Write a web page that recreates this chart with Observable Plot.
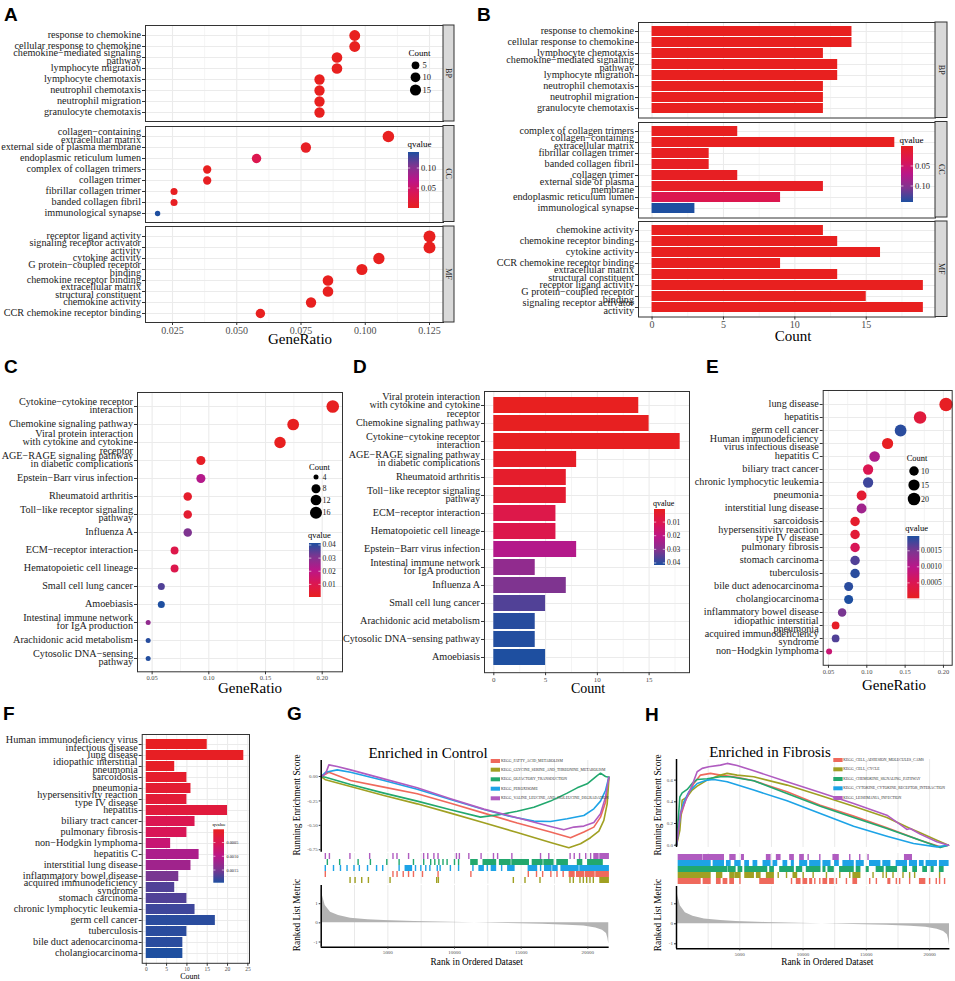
<!DOCTYPE html>
<html><head><meta charset="utf-8">
<script src="https://cdn.jsdelivr.net/npm/d3@7"></script>
<script src="https://cdn.jsdelivr.net/npm/@observablehq/plot@0.6"></script>
<style>
html,body{margin:0;padding:0;background:#fff;overflow:hidden;}
#root{position:relative;width:955px;height:981px;overflow:hidden;background:#fff;}
</style></head><body><div id="root"></div>
<script>
// ---------------- DATA ----------------
// Panel A (GO dot plot)
const aTermsBP = ["response to chemokine","cellular response to chemokine","chemokine−mediated signaling\npathway","lymphocyte migration","lymphocyte chemotaxis","neutrophil chemotaxis","neutrophil migration","granulocyte chemotaxis"];
const aRatioBP = [0.0959,0.0959,0.0890,0.0890,0.0822,0.0822,0.0822,0.0822];
const aCountBP = [14,14,13,13,12,12,12,12];
const aQBP = [0.00002,0.00002,0.0001,0.0001,0.00005,0.0002,0.0003,0.0003];
const aTermsCC = ["collagen−containing\nextracellular matrix","external side of plasma membrane","endoplasmic reticulum lumen","complex of collagen trimers","collagen trimer","fibrillar collagen trimer","banded collagen fibril","immunological synapse"];
const aRatioCC = [0.1090,0.0769,0.0577,0.0385,0.0385,0.0256,0.0256,0.0192];
const aCountCC = [17,12,9,6,6,4,4,3];
const aQCC = [0.001,0.004,0.033,0.0008,0.003,0.002,0.003,0.14];
const aTermsMF = ["receptor ligand activity","signaling receptor activator\nactivity","cytokine activity","G protein−coupled receptor\nbinding","chemokine receptor binding","extracellular matrix\nstructural constituent","chemokine activity","CCR chemokine receptor binding"];
const aRatioMF = [0.1250,0.1250,0.1053,0.0987,0.0855,0.0855,0.0789,0.0592];
const aCountMF = [19,19,16,15,13,13,12,9];
const aQMF = [0.0002,0.0003,0.00003,0.0002,0.00002,0.0001,0.00001,0.00005];
// Panel B (GO bar plot)
const bTermsBP = ["response to chemokine","cellular response to chemokine","lymphocyte chemotaxis","chemokine−mediated signaling\npathway","lymphocyte migration","neutrophil chemotaxis","neutrophil migration","granulocyte chemotaxis"];
const bCountBP = [14,14,12,13,13,12,12,12];
const bQBP = [0.00002,0.00002,0.00005,0.0001,0.0001,0.0002,0.0003,0.0003];
const bTermsCC = ["complex of collagen trimers","collagen−containing\nextracellular matrix","fibrillar collagen trimer","banded collagen fibril","collagen trimer","external side of plasma\nmembrane","endoplasmic reticulum lumen","immunological synapse"];
const bCountCC = [6,17,4,4,6,12,9,3];
const bQCC = [0.0008,0.001,0.002,0.003,0.003,0.004,0.033,0.14];
const bTermsMF = ["chemokine activity","chemokine receptor binding","cytokine activity","CCR chemokine receptor binding","extracellular matrix\nstructural constituent","receptor ligand activity","G protein−coupled receptor\nbinding","signaling receptor activator\nactivity"];
const bCountMF = [12,13,16,9,13,19,15,19];
const bQMF = [0.00001,0.00002,0.00003,0.00005,0.0001,0.0002,0.0002,0.0003];
const goQDomain = [0.00001, 0.14];
// Panel C (KEGG dot plot)
const cTerms = ["Cytokine−cytokine receptor\ninteraction","Chemokine signaling pathway","Viral protein interaction\nwith cytokine and cytokine\nreceptor","AGE−RAGE signaling pathway\nin diabetic complications","Epstein−Barr virus infection","Rheumatoid arthritis","Toll−like receptor signaling\npathway","Influenza A","ECM−receptor interaction","Hematopoietic cell lineage","Small cell lung cancer","Amoebiasis","Intestinal immune network\nfor IgA production","Arachidonic acid metabolism","Cytosolic DNA−sensing\npathway"];
const cRatio = [0.2093,0.1744,0.1628,0.0930,0.0930,0.0814,0.0814,0.0814,0.0698,0.0698,0.0581,0.0581,0.0465,0.0465,0.0465];
const cCount = [18,15,14,8,8,7,7,7,6,6,5,5,4,4,4];
const cQ = [0.0008,0.0008,0.0006,0.002,0.022,0.003,0.004,0.031,0.009,0.0095,0.036,0.0415,0.028,0.0405,0.041];
// Panel D (KEGG bar plot)
const dTerms = ["Viral protein interaction\nwith cytokine and cytokine\nreceptor","Chemokine signaling pathway","Cytokine−cytokine receptor\ninteraction","AGE−RAGE signaling pathway\nin diabetic complications","Rheumatoid arthritis","Toll−like receptor signaling\npathway","ECM−receptor interaction","Hematopoietic cell lineage","Epstein−Barr virus infection","Intestinal immune network\nfor IgA production","Influenza A","Small cell lung cancer","Arachidonic acid metabolism","Cytosolic DNA−sensing pathway","Amoebiasis"];
const dCount = [14,15,18,8,7,7,6,6,8,4,7,5,4,4,5];
const dQ = [0.0006,0.0008,0.0008,0.002,0.003,0.004,0.009,0.0095,0.022,0.028,0.031,0.036,0.0405,0.041,0.0415];
const keggQDomain = [0.0004, 0.0415];
// Panel E (DO dot plot)
const eTerms = ["lung disease","hepatitis","germ cell cancer","Human immunodeficiency\nvirus infectious disease","hepatitis C","biliary tract cancer","chronic lymphocytic leukemia","pneumonia","interstitial lung disease","sarcoidosis","hypersensitivity reaction\ntype IV disease","pulmonary fibrosis","stomach carcinoma","tuberculosis","bile duct adenocarcinoma","cholangiocarcinoma","inflammatory bowel disease","idiopathic interstitial\npneumonia","acquired immunodeficiency\nsyndrome","non−Hodgkin lymphoma"];
const eRatio = [0.2034,0.1695,0.1441,0.1271,0.1102,0.1017,0.1017,0.0932,0.0932,0.0847,0.0847,0.0847,0.0847,0.0847,0.0763,0.0763,0.0678,0.0593,0.0593,0.0508];
const eCount = [24,20,17,15,13,12,12,11,11,10,10,10,10,10,9,9,8,7,7,6];
const eQ = [0.00007,0.0003,0.0019,0.00005,0.0011,0.0005,0.0018,0.0002,0.0012,0.00015,0.00025,0.00055,0.0017,0.0019,0.0019,0.00196,0.0015,0.0001,0.0017,0.0008];
// Panel F (DO bar plot)
const fTerms = ["Human immunodeficiency virus\ninfectious disease","lung disease","idiopathic interstitial\npneumonia","sarcoidosis","pneumonia","hypersensitivity reaction\ntype IV disease","hepatitis","biliary tract cancer","pulmonary fibrosis","non−Hodgkin lymphoma","hepatitis C","interstitial lung disease","inflammatory bowel disease","acquired immunodeficiency\nsyndrome","stomach carcinoma","chronic lymphocytic leukemia","germ cell cancer","tuberculosis","bile duct adenocarcinoma","cholangiocarcinoma"];
const fCount = [15,24,7,10,11,10,20,12,10,6,13,11,8,7,10,12,17,10,9,9];
const fQ = [0.00005,0.00007,0.0001,0.00015,0.0002,0.00025,0.0003,0.0005,0.00055,0.0008,0.0011,0.0012,0.0015,0.0017,0.0017,0.0018,0.0019,0.0019,0.0019,0.00196];
const doQDomain = [0.00002, 0.00196];
// Panel G (GSEA, enriched in control)
const gSets = ["KEGG_FATTY_ACID_METABOLISM","KEGG_GLYCINE_SERINE_AND_THREONINE_METABOLISM","KEGG_OLFACTORY_TRANSDUCTION","KEGG_PEROXISOME","KEGG_VALINE_LEUCINE_AND_ISOLEUCINE_DEGRADATION"];
const gEsFatty = [[0,0],[575,0.044],[2200,-0.041],[4700,-0.109],[7200,-0.177],[9700,-0.273],[12200,-0.375],[14700,-0.477],[17200,-0.569],[18700,-0.627],[19700,-0.569],[20450,-0.518],[20950,-0.416],[21325,-0.263],[21575,-0.007]];
const gEsGlycine = [[0,0],[325,-0.034],[2200,-0.102],[4700,-0.194],[7200,-0.28],[9700,-0.375],[12200,-0.474],[14700,-0.573],[17200,-0.675],[18575,-0.73],[19450,-0.689],[20200,-0.627],[20825,-0.559],[21200,-0.45],[21450,-0.28],[21590,-0.007]];
const gEsOlfactory = [[0,0],[325,-0.007],[2200,-0.082],[4700,-0.17],[7200,-0.252],[9700,-0.341],[11950,-0.416],[13450,-0.389],[14700,-0.355],[15950,-0.314],[17200,-0.252],[18450,-0.17],[19200,-0.116],[19950,-0.075],[20700,0.01],[20950,0.034],[21325,0],[21575,-0.007]];
const gEsPeroxisome = [[0,0],[325,0.044],[1200,0.068],[2200,0.044],[4700,-0.041],[7200,-0.13],[9700,-0.235],[12200,-0.338],[14200,-0.409],[15950,-0.457],[17200,-0.46],[18450,-0.433],[19700,-0.399],[20450,-0.331],[20950,-0.252],[21325,-0.143],[21575,-0.007]];
const gEsValine = [[0,0],[325,0.027],[575,0.119],[1200,0.102],[2200,0.068],[4700,-0.024],[7200,-0.116],[9700,-0.228],[12200,-0.334],[14700,-0.423],[17200,-0.511],[18200,-0.546],[18950,-0.518],[19700,-0.508],[20450,-0.47],[20950,-0.382],[21325,-0.211],[21575,-0.007]];
const gHitsFatty = [341,5418,5726,6188,6588,6957,7634,8803,11265,15572,16188,16649,17265,17726,18188,[18649,19000],[19200,19700],[19850,20500],[20650,21570]];
const gHitsGlycine = [2200,2575,3075,3575,5200,8700,8825,14450,15325,16450,18700,18950,19450,19700,19950,20200,20450,[20950,21570]];
const gHitsOlfactory = [495,1418,2803,3726,4957,5880,6957,7726,8249,8557,8865,9172,9480,10034,10342,[11265,11726],[12188,13111],[13419,14200],[14350,15572],[15880,16600],[16750,17419],[17726,18495],[19265,19573],[20034,21111]];
const gHitsPeroxisome = [341,957,1480,1972,2495,2895,3511,4188,4649,5880,[6341,6803],7110,7510,7880,8188,8742,8957,9726,10342,11418,[11880,12188],12495,[12803,13111],13572,[14034,14495],[15572,16188],16495,[16803,17265],[17419,17726],[18034,19300],[19450,21570]];
const gHitsValine = [345,650,2190,3670,5420,5720,6590,7720,8030,8490,8800,10180,10400,11110,12030,12960,13270,14340,16490,17110,18710,19020,19420,19880,20250,[20500,20800],[20950,21570]];
const gHitRows = ["KEGG_VALINE_LEUCINE_AND_ISOLEUCINE_DEGRADATION","KEGG_OLFACTORY_TRANSDUCTION","KEGG_PEROXISOME","KEGG_FATTY_ACID_METABOLISM","KEGG_GLYCINE_SERINE_AND_THREONINE_METABOLISM"];
// Panel H (GSEA, enriched in fibrosis)
const hSets = ["KEGG_CELL_ADHESION_MOLECULES_CAMS","KEGG_CELL_CYCLE","KEGG_CHEMOKINE_SIGNALING_PATHWAY","KEGG_CYTOKINE_CYTOKINE_RECEPTOR_INTERACTION","KEGG_LEISHMANIA_INFECTION"];
const hEsCams = [[0,0],[316,0.262],[710,0.415],[1368,0.569],[1894,0.646],[2683,0.662],[3472,0.646],[4787,0.625],[6102,0.594],[8732,0.492],[11362,0.369],[13992,0.268],[16622,0.16],[19252,0.046],[20830,-0.015],[21487,0]];
const hEsCycle = [[0,0],[263,0.138],[447,0.415],[842,0.446],[1236,0.508],[1631,0.545],[2420,0.6],[3472,0.646],[3998,0.662],[4787,0.646],[6102,0.631],[8732,0.554],[11362,0.458],[13992,0.36],[16622,0.255],[18463,0.154],[19252,0.114],[20567,0.046],[21487,0]];
const hEsChemokine = [[0,0],[263,0.446],[447,0.483],[842,0.514],[1236,0.569],[1631,0.606],[2420,0.612],[3472,0.631],[4261,0.631],[6102,0.594],[8732,0.477],[11362,0.36],[13992,0.255],[16622,0.154],[19252,0.046],[20830,-0.022],[21487,0]];
const hEsCytokine = [[0,0],[316,0.292],[579,0.4],[973,0.492],[1631,0.569],[2420,0.6],[2946,0.606],[3998,0.585],[6102,0.508],[8732,0.409],[11362,0.292],[13992,0.175],[16622,0.083],[18726,0.015],[20567,-0.015],[21487,0]];
const hEsLeish = [[0,0],[316,0.292],[842,0.446],[1236,0.554],[1631,0.677],[2025,0.708],[2551,0.723],[3472,0.738],[3998,0.754],[4787,0.735],[6102,0.686],[8732,0.585],[11362,0.486],[13992,0.385],[16622,0.277],[17937,0.169],[18200,0.145],[18463,0.154],[19252,0.102],[20567,0.031],[21487,0]];
const hHitsCams = [[184,1894],[2157,2683],[3209,3472],[3735,3998],[4261,4524],5050,[6628,7680],9126,[9521,9784],[10047,10310],[10573,10704],10967,11362,[11625,11888],[12151,12414],12677,13466,[13992,14255],15307,15833,[16753,16885],17411,17674,18463,[19252,19647],20041,20567,20830,21224];
const hHitsCycle = [[184,2683],[3209,3603],[4261,4524],[4655,5050],[5444,6102],[6365,6628],[7154,7680],8074,8732,[9258,9521],10047,10836,11888,12940,13729,[13992,14518],15570,16359,16622,17148,17937,18463,18857,20830];
const hHitsChemokine = [[184,3998],[4129,4655],[4918,5181],[5444,7154],[7417,7680],[8206,9258],[9521,9916],[10310,11362],[11625,11756],[12020,12414],[12940,13992],[14255,14518],[15044,15175],[15833,16359],[16622,17411],[17937,18200],[18726,18989],[19515,19778],[20173,20304],[20830,21093]];
const hHitsCytokine = [[184,2683],[2946,3735],[3998,4261],[4655,5050],[5444,5708],[6102,6365],[6891,7417],[7680,7943],[8469,8732],[9127,9258],[9784,10310],[10573,11362],[11625,12152],[12545,12808],[13203,13992],[14255,14781],[15307,16096],[16359,16885],[17411,18200],[18463,18989],[19252,19515],[19778,20567],[20830,21487]];
const hHitsLeish = [[184,2025],[2157,3735],[4261,4655],[5181,5313],[7154,7417],[7943,8206],[8995,9258],[9784,10047],10441,11362,[12414,12808],13729,14518,15175,[18068,18594]];
const hHitRows = ["KEGG_LEISHMANIA_INFECTION","KEGG_CYTOKINE_CYTOKINE_RECEPTOR_INTERACTION","KEGG_CHEMOKINE_SIGNALING_PATHWAY","KEGG_CELL_CYCLE","KEGG_CELL_ADHESION_MOLECULES_CAMS"];
// shared ranked list metric (G and H)
const metricRank = [0,100,300,700,1300,2200,3500,4700,7000,9700,11500,14000,16600,18500,19700,20600,21100,21400,21500,21570];
const metricVal = [1.8,1.4,0.9,0.55,0.38,0.24,0.16,0.12,0.07,0.03,0.0,-0.03,-0.07,-0.12,-0.17,-0.27,-0.38,-0.55,-0.8,-1.1];
const gseaColors = ["#EF695C","#A0A022","#22A86E","#1DA3E6","#B05CC0"];

// ---------------- RENDERING ----------------
const FONT = '"Liberation Serif","Times New Roman",serif';
const SANS = '"Liberation Sans",Arial,sans-serif';
const PAL = ["#E8201F","#DB1652","#BA1689","#7E3590","#1E4FA0"];
const qInterp = d3.piecewise(d3.interpolateRgb, PAL);
const colorOpt = dom => ({type: "linear", domain: dom, interpolate: qInterp});
const rOpt = (nmin, nmax, rmin, rmax) => ({type: "linear", transform: v => Math.sqrt(Math.max(0, v - nmin)), domain: [0, Math.sqrt(nmax - nmin)], range: [rmin, rmax]});
const rFun = (nmin, nmax, rmin, rmax) => v => rmin + (rmax - rmin) * Math.sqrt(Math.max(0, v - nmin)) / Math.sqrt(nmax - nmin);
const root = document.getElementById("root");
const STYLE = {fontFamily: FONT, background: "transparent", overflow: "visible", color: "#1a1a1a"};
const YFS = 10.2;

function place(node, left, top) {
  node.style.position = "absolute";
  node.style.left = left + "px";
  node.style.top = top + "px";
  node.style.maxWidth = "none";
  root.appendChild(node);
}

function catPanel(c) {
  const data = c.terms.map((t, i) => ({t, n: c.n[i], x: c.x ? c.x[i] : c.n[i], q: c.q[i]}));
  const mt = 3, mr = 3, mb = c.showX ? c.xfs + 8 : 3;
  const ml = c.fx1 - c.left;
  const y = c.bar
    ? {type: "band", domain: c.terms, paddingInner: 0.1, paddingOuter: 0.15, axis: null}
    : {type: "point", domain: c.terms, padding: 0.6, axis: null};
  const marks = [
    Plot.gridX(c.minor, {stroke: "#EBEBEB", strokeOpacity: 1, strokeWidth: 0.55}),
    Plot.gridX(c.major, {stroke: "#EBEBEB", strokeOpacity: 1, strokeWidth: 1.1}),
    Plot.gridY(c.terms, {stroke: "#EBEBEB", strokeOpacity: 1, strokeWidth: 1.1}),
    c.bar ? Plot.barX(data, {x: "n", y: "t", fill: "q"}) : Plot.dot(data, {x: "x", y: "t", r: "n", fill: "q"}),
    Plot.axisY(c.terms, {tickSize: 3, tickPadding: 1.5, fontSize: YFS, lineHeight: 8.4 / YFS, stroke: "#333", fill: "#1a1a1a", label: null}),
    Plot.frame({stroke: "#333", strokeWidth: 1})
  ];
  if (c.showX) marks.push(Plot.axisX(c.major, {tickSize: 3, tickPadding: 1, fontSize: c.xfs, tickFormat: c.fmt, stroke: "#333", fill: "#4d4d4d", label: null}));
  const opts = {
    width: c.fx2 + mr - c.left, height: c.fy2 - c.fy1 + mt + mb,
    marginLeft: ml, marginRight: mr, marginTop: mt, marginBottom: mb,
    style: STYLE, x: {domain: c.xDomain, axis: null}, y, color: c.color, marks
  };
  if (c.r) opts.r = c.r;
  const p = Plot.plot(opts);
  place(p, c.left, c.fy1 - mt);
  return p;
}

// ---- Panel A
const aX = {xDomain: [0.014494, 0.130447], major: [0.025, 0.05, 0.075, 0.1, 0.125], minor: [0.0375, 0.0625, 0.0875, 0.1125], fmt: d => d.toFixed(3), xfs: 10};
const aR = rOpt(3, 19, 2.7, 6), aRf = rFun(3, 19, 2.7, 6);
const aC = colorOpt(goQDomain);
const aFacets = [
  {terms: aTermsBP, x: aRatioBP, n: aCountBP, q: aQBP, fy1: 25, fy2: 121, lab: "BP"},
  {terms: aTermsCC, x: aRatioCC, n: aCountCC, q: aQCC, fy1: 125.5, fy2: 221.5, lab: "CC"},
  {terms: aTermsMF, x: aRatioMF, n: aCountMF, q: aQMF, fy1: 226, fy2: 322, lab: "MF", showX: true}
];
aFacets.forEach(f => catPanel({...aX, ...f, left: 0, fx1: 145, fx2: 443, r: aR, color: aC}));

// ---- Panel B
const bX = {xDomain: [-0.95, 19.85], major: [0, 5, 10, 15], minor: [2.5, 7.5, 12.5, 17.5], fmt: d => String(d), xfs: 10};
const bFacets = [
  {terms: bTermsBP, n: bCountBP, q: bQBP, fy1: 22, fy2: 117.5, lab: "BP"},
  {terms: bTermsCC, n: bCountCC, q: bQCC, fy1: 121.5, fy2: 217, lab: "CC"},
  {terms: bTermsMF, n: bCountMF, q: bQMF, fy1: 221, fy2: 316.5, lab: "MF", showX: true}
];
bFacets.forEach(f => catPanel({...bX, ...f, bar: true, left: 470, fx1: 638, fx2: 935, color: aC}));

// ---- Panel C
const cR = rOpt(4, 18, 2.5, 6.3), cRf = rFun(4, 18, 2.5, 6.3);
const kC = colorOpt(keggQDomain);
catPanel({terms: cTerms, x: cRatio, n: cCount, q: cQ, left: 0, fx1: 137, fx2: 342, fy1: 392, fy2: 671.3,
  xDomain: [0.0371, 0.2179], major: [0.05, 0.1, 0.15, 0.2], minor: [0.075, 0.125, 0.175], fmt: d => d.toFixed(2), xfs: 6.5, showX: true, r: cR, color: kC});
// ---- Panel D
catPanel({terms: dTerms, n: dCount, q: dQ, bar: true, left: 340, fx1: 484, fx2: 689, fy1: 390.6, fy2: 671.8,
  xDomain: [-0.9, 18.9], major: [0, 5, 10, 15], minor: [2.5, 7.5, 12.5, 17.5], fmt: d => String(d), xfs: 7, showX: true, color: kC});
// ---- Panel E
const eR = rOpt(6, 24, 3, 6.7), eRf = rFun(6, 24, 3, 6.7);
const dC = colorOpt(doQDomain);
catPanel({terms: eTerms, x: eRatio, n: eCount, q: eQ, left: 680, fx1: 822.7, fx2: 951.7, fy1: 390.1, fy2: 664.9,
  xDomain: [0.0431, 0.2114], major: [0.05, 0.1, 0.15, 0.2], minor: [0.075, 0.125, 0.175], fmt: d => d.toFixed(2), xfs: 6.5, showX: true, r: eR, color: dC});
// ---- Panel F
catPanel({terms: fTerms, n: fCount, q: fQ, bar: true, left: 0, fx1: 141.7, fx2: 249, fy1: 734, fy2: 962.8,
  xDomain: [-1, 25.4], major: [0, 5, 10, 15, 20, 25], minor: [2.5, 7.5, 12.5, 17.5, 22.5], fmt: d => String(d), xfs: 5.5, showX: true, color: dC});

// ---- GSEA panels
function gseaPanel(c) {
  const es = [];
  c.sets.forEach((s, i) => c.es[i].forEach(([r, v]) => es.push({set: s, r, v})));
  const hits = [];
  c.sets.forEach((s, i) => c.hits[i].forEach(h => { const [a, b] = Array.isArray(h) ? h : [h, h]; hits.push({set: s, a, b}); }));
  const met = metricRank.map((r, i) => ({r, v: metricVal[i]}));
  const color = {type: "ordinal", domain: c.sets, range: gseaColors};
  const ml = c.fx1 - c.left, mr = 3, W = c.fx2 + mr - c.left;
  const xs = {domain: [0, 21600], axis: null};
  const grid = () => Plot.gridX([2500, 5000, 7500, 10000, 12500, 15000, 17500, 20000], {stroke: "#E9E9E9", strokeOpacity: 1, strokeWidth: 1});
  const up = Plot.plot({
    width: W, height: c.u[1] - c.u[0] + 4, marginLeft: ml, marginRight: mr, marginTop: 2, marginBottom: 2,
    x: xs, y: {domain: c.uDom, axis: null}, color, style: STYLE,
    marks: [grid(),
      Plot.line(es, {x: "r", y: "v", stroke: "set", z: "set", strokeWidth: 1.6}),
      Plot.ruleX([0], {stroke: "#000", strokeWidth: 1.5}),
      Plot.axisY(c.uTicks, {tickSize: 2, tickPadding: 1.5, fontSize: 5, tickFormat: c.uFmt, stroke: "#333", fill: "#4d4d4d", label: null})]
  });
  place(up, c.left, c.u[0] - 2);
  const hp = Plot.plot({
    width: W, height: c.h[1] - c.h[0], marginLeft: ml, marginRight: mr, marginTop: 0, marginBottom: 0,
    x: xs, y: {type: "band", domain: c.hitRows, padding: 0, axis: null}, color, style: STYLE,
    marks: [grid(), Plot.barX(hits, {x1: "a", x2: "b", y: "set", fill: "set", insetLeft: -0.7, insetRight: -0.7})]
  });
  place(hp, c.left, c.h[0]);
  const lo = Plot.plot({
    width: W, height: c.l[1] - c.l[0] + 16, marginLeft: ml, marginRight: mr, marginTop: 2, marginBottom: 14,
    x: xs, y: {domain: c.lDom, axis: null}, style: STYLE,
    marks: [grid(),
      Plot.areaY(met, {x: "r", y: "v", fill: "#B3B3B3"}),
      Plot.ruleX([0], {stroke: "#000", strokeWidth: 1.5}),
      Plot.ruleY([c.lDom[0]], {stroke: "#000", strokeWidth: 1.5}),
      Plot.axisY([1, 0, -1], {tickSize: 2, tickPadding: 1.5, fontSize: 5, tickFormat: d => String(d), stroke: "#333", fill: "#4d4d4d", label: null}),
      Plot.axisX([5000, 10000, 15000, 20000], {tickSize: 2, tickPadding: 1.5, fontSize: 5, tickFormat: d => String(d), stroke: "#333", fill: "#4d4d4d", label: null})]
  });
  place(lo, c.left, c.l[0] - 2);
}
gseaPanel({sets: gSets, es: [gEsFatty, gEsGlycine, gEsOlfactory, gEsPeroxisome, gEsValine],
  hits: [gHitsFatty, gHitsGlycine, gHitsOlfactory, gHitsPeroxisome, gHitsValine], hitRows: gHitRows,
  left: 290, fx1: 320.7, fx2: 608.7, u: [760, 851.7], uDom: [-0.775, 0.164], uTicks: [0, -0.25, -0.5, -0.75], uFmt: d => d.toFixed(2),
  h: [853.3, 884], l: [885, 946.7], lDom: [-1.27, 1.95]});
gseaPanel({sets: hSets, es: [hEsCams, hEsCycle, hEsChemokine, hEsCytokine, hEsLeish],
  hits: [hHitsCams, hHitsCycle, hHitsChemokine, hHitsCytokine, hHitsLeish], hitRows: hHitRows,
  left: 650, fx1: 676, fx2: 949.4, u: [759.3, 847.3], uDom: [-0.021, 0.79], uTicks: [0, 0.2, 0.4, 0.6], uFmt: d => d.toFixed(1),
  h: [853.3, 885], l: [886, 948.3], lDom: [-1.25, 1.865]});

// ---------------- OVERLAY (titles, strips, legends) ----------------
const ov = d3.select(root).append("svg").attr("width", 955).attr("height", 981)
  .style("position", "absolute").style("left", "0px").style("top", "0px").style("font-family", FONT).style("overflow", "visible");
const defs = ov.append("defs");
function T(x, y, s, fs, o = {}) {
  const t = ov.append("text").attr("x", x).attr("y", y).attr("font-size", fs).attr("fill", o.fill || "#000")
    .attr("text-anchor", o.anchor || "start").attr("dominant-baseline", o.base || "central").text(s);
  if (o.family) t.attr("font-family", o.family);
  if (o.weight) t.attr("font-weight", o.weight);
  if (o.rot) t.attr("transform", `rotate(${o.rot} ${x} ${y})`);
  return t;
}
// panel letters
[["A", 4, 20.7], ["B", 477, 20.7], ["C", 4, 373.3], ["D", 353, 373.3], ["E", 706, 373.3], ["F", 3, 720], ["G", 287, 720], ["H", 645, 721]]
  .forEach(([s, x, y]) => T(x, y, s, 19, {family: SANS, weight: "bold", base: "auto"}));
// strips
function strip(x, y1, y2, w, lab) {
  ov.append("rect").attr("x", x).attr("y", y1).attr("width", w).attr("height", y2 - y1).attr("fill", "#D9D9D9").attr("stroke", "#333").attr("stroke-width", 1);
  T(x + w / 2, (y1 + y2) / 2, lab, 8, {anchor: "middle", rot: 90, fill: "#1a1a1a"});
}
aFacets.forEach(f => strip(443, f.fy1, f.fy2, 11, f.lab));
bFacets.forEach(f => strip(935, f.fy1, f.fy2, 12, f.lab));
// axis titles
T(300, 339, "GeneRatio", 15, {anchor: "middle"});
T(793, 336, "Count", 15, {anchor: "middle"});
T(250, 687.7, "GeneRatio", 15, {anchor: "middle"});
T(588, 688.5, "Count", 14, {anchor: "middle"});
T(894, 685, "GeneRatio", 15, {anchor: "middle"});
T(190, 976.5, "Count", 8, {anchor: "middle"});
// count legends
function countLeg(title, tx, ty, tfs, items, cx, lx, rf, fs) {
  T(tx, ty, title, tfs);
  items.forEach(([n, y]) => {
    ov.append("circle").attr("cx", cx).attr("cy", y).attr("r", rf(n)).attr("fill", "#000");
    T(lx, y, String(n), fs, {fill: "#1a1a1a"});
  });
}
countLeg("Count", 408.5, 53, 9, [[5, 65.3], [10, 77.3], [15, 90]], 415.5, 422.5, aRf, 8.5);
countLeg("Count", 309, 467, 8.5, [[4, 477], [8, 488.7], [12, 500], [16, 512.7]], 316, 322.5, cRf, 8);
countLeg("Count", 906.7, 457.7, 8.5, [[10, 471], [15, 485], [20, 499]], 914, 921, eRf, 8);
// colorbars
let gid = 0;
function cbar(x, y, w, h, dom, topMax, ticks, fmt, lx, fs, title, tx, ty, tfs) {
  const id = "g" + (gid++);
  const g = defs.append("linearGradient").attr("id", id).attr("x1", 0).attr("x2", 0).attr("y1", 0).attr("y2", 1);
  for (let i = 0; i <= 20; i++) g.append("stop").attr("offset", i / 20).attr("stop-color", qInterp(topMax ? 1 - i / 20 : i / 20));
  ov.append("rect").attr("x", x).attr("y", y).attr("width", w).attr("height", h).attr("fill", `url(#${id})`);
  const pos = v => { const t = (v - dom[0]) / (dom[1] - dom[0]); return topMax ? y + h * (1 - t) : y + h * t; };
  ticks.forEach(v => {
    const py = pos(v);
    ov.append("line").attr("x1", x).attr("x2", x + w / 5).attr("y1", py).attr("y2", py).attr("stroke", "#fff").attr("stroke-width", 0.6);
    ov.append("line").attr("x1", x + w - w / 5).attr("x2", x + w).attr("y1", py).attr("y2", py).attr("stroke", "#fff").attr("stroke-width", 0.6);
    T(lx, py, fmt(v), fs, {fill: "#1a1a1a"});
  });
  T(tx, ty, title, tfs);
}
cbar(408, 152, 11, 56, goQDomain, true, [0.05, 0.10], d => d.toFixed(2), 421, 8.5, "qvalue", 407.5, 144, 9);
cbar(901, 146, 12, 56, goQDomain, false, [0.05, 0.10], d => d.toFixed(2), 915, 8.5, "qvalue", 899.5, 140, 9);
cbar(309, 543, 11.7, 54, keggQDomain, true, [0.01, 0.02, 0.03, 0.04], d => d.toFixed(2), 322.5, 7.5, "qvalue", 308, 535, 8.5);
cbar(654, 509, 11, 56, keggQDomain, false, [0.01, 0.02, 0.03, 0.04], d => d.toFixed(2), 667, 7.5, "qvalue", 653, 503, 8);
cbar(907.3, 536, 12, 62.3, doQDomain, true, [0.0005, 0.0010, 0.0015], d => d.toFixed(4), 921, 7.5, "qvalue", 905.3, 528, 8.5);
cbar(213.3, 829.3, 10.7, 53.4, doQDomain, false, [0.0005, 0.0010, 0.0015], d => d.toFixed(4), 226.5, 4.3, "qvalue", 212.5, 824, 5);
// GSEA titles and labels
T(428, 752.7, "Enriched in Control", 15, {anchor: "middle"});
T(770, 751.7, "Enriched in Fibrosis", 15, {anchor: "middle"});
[[297.3, 805, "Running Enrichment Score"], [297.3, 915, "Ranked List Metric"], [658.3, 805, "Running Enrichment Score"], [658.3, 915, "Ranked List Metric"]]
  .forEach(([x, y, s]) => T(x, y, s, 9.3, {anchor: "middle", rot: -90}));
T(476.7, 961.7, "Rank in Ordered Dataset", 9.3, {anchor: "middle"});
T(827.3, 961.7, "Rank in Ordered Dataset", 9.3, {anchor: "middle"});
function gLegend(sets, sx, tx, ys) {
  sets.forEach((s, i) => {
    ov.append("rect").attr("x", sx).attr("y", ys[i] - 2).attr("width", 9.3).attr("height", 4).attr("fill", gseaColors[i]);
    T(tx, ys[i], s, 3.8, {fill: "#333"});
  });
}
gLegend(gSets, 490.7, 501, [761, 769.7, 779.3, 788.7, 798.3]);
gLegend(hSets, 833.3, 843.3, [760, 769.3, 779, 788.3, 798]);
</script></body></html>
